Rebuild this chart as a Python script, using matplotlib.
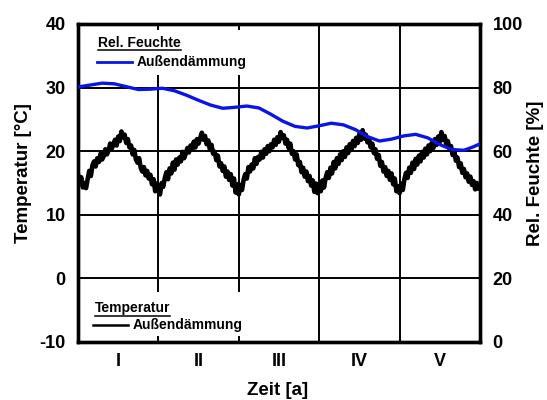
import numpy as np
import matplotlib.pyplot as plt
from matplotlib.lines import Line2D

plt.rcParams['font.family'] = ['Liberation Sans', 'DejaVu Sans']
plt.rcParams['axes.unicode_minus'] = False

# Feuchte (Außendämmung)
rh_years = [0.0, 0.15, 0.3, 0.45, 0.6, 0.75, 0.9, 1.05, 1.2, 1.35, 1.5, 1.65, 1.8,
            1.95, 2.1, 2.25, 2.4, 2.55, 2.7, 2.85, 3.0, 3.15, 3.3, 3.45, 3.6, 3.75,
            3.9, 4.05, 4.2, 4.35, 4.5, 4.65, 4.8, 4.9, 5.0]
rh_values = [80.2, 80.8, 81.4, 81.2, 80.3, 79.4, 79.5, 79.8, 79.0, 77.6, 76.0, 74.5, 73.5,
             73.8, 74.2, 73.6, 71.6, 69.4, 67.8, 67.3, 68.0, 68.8, 68.3, 66.8, 64.6, 63.2,
             63.8, 64.8, 65.3, 64.2, 62.1, 60.5, 60.3, 61.2, 62.3]

# Temperatur (Außendämmung), 50 readings per year
temp_y1 = [16.4, 15.1, 15.9, 14.3, 15.0, 14.2, 15.6, 16.9, 16.1, 17.8,
           18.4, 17.6, 18.9, 18.3, 19.6, 18.7, 19.2, 20.3, 19.5, 20.1,
           21.2, 20.4, 21.0, 21.8, 20.9, 22.3, 21.6, 23.1, 22.2, 22.6,
           21.3, 21.9, 20.6, 20.9, 19.5, 20.2, 18.7, 18.2, 18.9, 17.4,
           16.8, 17.5, 16.2, 16.9, 15.7, 16.3, 14.8, 15.6, 13.7, 14.9]
temp_y2 = [14.0, 13.2, 15.0, 14.4, 15.8, 16.7, 15.6, 17.3, 16.5, 18.2,
           17.1, 18.7, 17.9, 19.0, 18.4, 19.9, 18.9, 19.6, 20.5, 19.8,
           20.9, 20.3, 21.5, 20.6, 21.9, 21.2, 22.1, 22.9, 21.8, 22.4,
           21.1, 21.7, 20.3, 21.0, 19.6, 19.9, 18.6, 19.3, 17.6, 18.1,
           16.9, 17.6, 16.0, 16.8, 15.5, 16.4, 14.6, 15.7, 13.5, 14.8]
temp_y3 = [13.2, 14.7, 13.9, 15.5, 16.4, 15.7, 17.5, 16.8, 17.9, 17.3,
           18.9, 18.0, 19.1, 18.7, 19.9, 19.0, 20.3, 19.6, 20.8, 20.0,
           21.1, 20.6, 21.8, 21.0, 22.2, 21.5, 23.0, 22.1, 22.5, 21.2,
           21.8, 20.5, 21.2, 19.6, 20.0, 18.7, 19.5, 17.8, 18.3, 16.7,
           17.4, 16.0, 16.8, 15.3, 16.1, 14.6, 15.4, 13.6, 14.9, 13.4]
temp_y4 = [14.9, 13.7, 15.4, 14.3, 15.8, 16.7, 15.8, 17.4, 16.5, 18.3,
           17.3, 18.9, 18.0, 19.5, 18.6, 20.0, 19.1, 20.6, 19.7, 21.1,
           20.2, 21.6, 20.8, 22.1, 21.3, 22.7, 21.8, 23.3, 22.0, 22.6,
           21.4, 22.0, 20.6, 21.2, 19.7, 20.3, 18.8, 19.4, 17.7, 18.3,
           16.8, 17.5, 16.1, 16.9, 15.5, 16.5, 14.8, 15.7, 13.7, 14.5]
temp_y5 = [13.4, 14.9, 13.9, 15.6, 16.6, 15.8, 17.4, 16.6, 18.2, 17.2,
           18.8, 17.9, 19.3, 18.4, 19.9, 19.0, 20.4, 19.5, 20.9, 20.0,
           21.3, 20.5, 21.9, 21.0, 22.3, 21.4, 23.0, 21.8, 22.4, 21.1,
           21.6, 20.4, 20.8, 19.4, 20.1, 18.5, 19.0, 17.5, 18.1, 16.6,
           17.2, 15.9, 16.5, 15.2, 16.0, 14.7, 15.3, 14.0, 15.0, 14.1, 14.4]

temp_values = temp_y1 + temp_y2 + temp_y3 + temp_y4 + temp_y5
temp_years = np.linspace(0, 5, len(temp_values))

year_labels = ['I', 'II', 'III', 'IV', 'V']

fig = plt.figure(figsize=(5.47, 4.0), dpi=100)
ax = fig.add_axes([0.1426, 0.145, 0.7349, 0.795])
ax2 = ax.twinx()

ax.set_xlim(0, 5)
ax.set_ylim(-10, 40)
ax2.set_ylim(0, 100)

# grid
for t in [0, 10, 20, 30]:
    ax.axhline(t, color='black', lw=1.4, zorder=1)
ax.vlines([1, 2], -2.2, 32, color='black', lw=1.4, zorder=1)
ax.vlines([3, 4], -10, 40, color='black', lw=1.4, zorder=1)

ax.plot(temp_years, temp_values, color='black', lw=3.3, zorder=3)
ax2.plot(rh_years, rh_values, color='#0a14e6', lw=2.4, zorder=3)

ax.set_yticks([-10, 0, 10, 20, 30, 40])
ax2.set_yticks([0, 20, 40, 60, 80, 100])
ax.set_xticks([0.5, 1.5, 2.5, 3.5, 4.5])
ax.set_xticklabels(year_labels)
ax.set_xticks([1, 2], minor=True)
ax.tick_params(axis='x', which='major', length=0, pad=8)
ax.tick_params(axis='x', which='minor', direction='in', length=4, width=1.4,
               top=True, bottom=True)
ax.tick_params(axis='y', length=0, pad=9)
ax2.tick_params(axis='y', length=0, pad=9)
for lab in ax.get_xticklabels() + ax.get_yticklabels() + ax2.get_yticklabels():
    lab.set_fontweight('bold')
    lab.set_fontsize(13)

for a in (ax, ax2):
    for s in a.spines.values():
        s.set_linewidth(2.4)

ax.set_xlabel('Zeit [a]', fontsize=13.5, fontweight='bold')
ax.set_ylabel('Temperatur [°C]', fontsize=13.5, fontweight='bold')
ax2.set_ylabel('Rel. Feuchte [%]', fontsize=13.5, fontweight='bold')
ax.xaxis.set_label_coords(0.497, -0.125)
ax.yaxis.set_label_coords(-0.114, 0.53)
ax2.yaxis.set_label_coords(1.117, 0.53)

# hand-made legends
h1 = ax.text(0.05, 0.928, 'Rel. Feuchte', transform=ax.transAxes, fontsize=10,
             fontweight='bold', va='baseline')
ax.add_line(Line2D([0.047, 0.134], [0.88, 0.88], transform=ax.transAxes,
                   color='#0a14e6', lw=2.0))
ax.text(0.147, 0.88, 'Außendämmung', transform=ax.transAxes, fontsize=10,
        fontweight='bold', va='center')

h2 = ax.text(0.042, 0.094, 'Temperatur', transform=ax.transAxes, fontsize=10,
             fontweight='bold', va='baseline')
ax.add_line(Line2D([0.037, 0.124], [0.053, 0.053], transform=ax.transAxes,
                   color='black', lw=1.8))
ax.text(0.137, 0.053, 'Außendämmung', transform=ax.transAxes, fontsize=10,
        fontweight='bold', va='center')

# underline the legend headings
fig.canvas.draw()
inv = fig.transFigure.inverted()
for h in (h1, h2):
    bb = h.get_window_extent().transformed(inv)
    fig.add_artist(Line2D([bb.x0, bb.x1], [bb.y0 - 0.001, bb.y0 - 0.001],
                          transform=fig.transFigure, color='black', lw=1.1))

fig.savefig('out.png', dpi=100)
